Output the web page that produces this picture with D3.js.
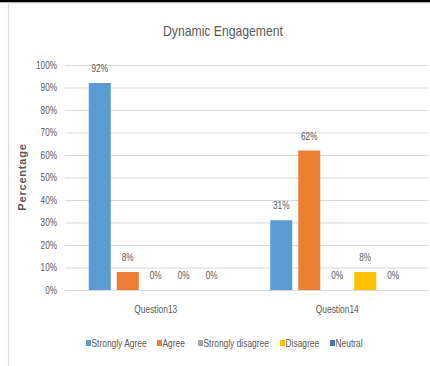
<!DOCTYPE html>
<html>
<head>
<meta charset="utf-8">
<script src="https://cdn.jsdelivr.net/npm/d3@7/dist/d3.min.js"></script>
<style>
  html, body { margin: 0; padding: 0; background: #fff; }
  svg { display: block; }
</style>
</head>
<body>
<svg id="chart" width="430" height="366"></svg>
<script>
const categories = ["Question13", "Question14"];
const seriesNames = ["Strongly Agree", "Agree", "Strongly disagree", "Disagree", "Neutral"];
const seriesColors = ["#5B9BD5", "#ED7D31", "#A5A5A5", "#FFC000", "#4472C4"];
const question13 = [0.92, 0.08, 0, 0, 0];
const question14 = [0.31, 0.62, 0, 0.08, 0];
const yTicks = [0, 0.1, 0.2, 0.3, 0.4, 0.5, 0.6, 0.7, 0.8, 0.9, 1.0];
const chartTitle = "Dynamic Engagement";
const yAxisTitle = "Percentage";

const values = [question13, question14];
const font = "'Liberation Sans', Arial, sans-serif";
const svg = d3.select("#chart");

// condense a text (Calibri-like narrow look)
function condense(sel, k) {
  sel.each(function () {
    const len = this.getComputedTextLength();
    d3.select(this).attr("textLength", len * k).attr("lengthAdjust", "spacingAndGlyphs");
  });
}

// frame decoration (screenshot edges)
svg.append("rect").attr("x", 0).attr("y", 0).attr("width", 430).attr("height", 2.3).attr("fill", "#000");
svg.append("line").attr("x1", 8.5).attr("x2", 8.5).attr("y1", 3).attr("y2", 366)
  .attr("stroke", "#d9d9d9").attr("stroke-width", 1.2);
svg.append("line").attr("x1", 8).attr("x2", 430).attr("y1", 3.5).attr("y2", 3.5)
  .attr("stroke", "#eeeeee").attr("stroke-width", 1);

const plot = { left: 65, right: 428, top: 65, bottom: 290 };

const y = d3.scaleLinear().domain([0, 1]).range([plot.bottom, plot.top]);
const x0 = d3.scaleBand().domain(categories).range([plot.left, plot.right]).padding(0);
const groupW = 134;
const x1 = d3.scaleBand().domain(seriesNames)
  .range([(x0.bandwidth() - groupW) / 2, (x0.bandwidth() + groupW) / 2])
  .paddingInner(6 / 28).paddingOuter(0);

// gridlines
const yAxis = d3.axisLeft(y).tickValues(yTicks).tickFormat(d3.format(".0%"))
  .tickSize(-(plot.right - plot.left)).tickPadding(8);
const gy = svg.append("g").attr("transform", `translate(${plot.left},0)`).call(yAxis);
gy.select(".domain").remove();
gy.selectAll(".tick line").attr("stroke", "#d9d9d9").attr("stroke-width", 1);
gy.selectAll(".tick text").attr("fill", "#595959").attr("font-family", font).attr("font-size", "10.5px")
  .call(condense, 0.78);

// bars
const groups = svg.append("g").selectAll("g").data(categories).join("g")
  .attr("transform", d => `translate(${x0(d)},0)`);

groups.selectAll("rect")
  .data((d, i) => seriesNames.map((s, j) => ({ s, v: values[i][j], c: seriesColors[j] })))
  .join("rect")
  .attr("x", d => x1(d.s))
  .attr("width", x1.bandwidth())
  .attr("y", d => y(d.v))
  .attr("height", d => y(0) - y(d.v))
  .attr("fill", d => d.c);

groups.selectAll("text.val")
  .data((d, i) => seriesNames.map((s, j) => ({ s, v: values[i][j] })))
  .join("text")
  .attr("class", "val")
  .attr("x", d => x1(d.s) + x1.bandwidth() / 2)
  .attr("y", d => y(d.v) - 11)
  .attr("text-anchor", "middle")
  .attr("fill", "#595959")
  .attr("font-family", font)
  .attr("font-size", "10.5px")
  .text(d => d3.format(".0%")(d.v))
  .call(condense, 0.78);

// x axis
svg.append("line").attr("x1", plot.left).attr("x2", plot.right)
  .attr("y1", y(0) + 0.5).attr("y2", y(0) + 0.5).attr("stroke", "#d9d9d9");
const xAxis = d3.axisBottom(x0).tickSize(0).tickPadding(16);
const gx = svg.append("g").attr("transform", `translate(0,${plot.bottom})`).call(xAxis);
gx.select(".domain").remove();
gx.selectAll(".tick text").attr("fill", "#595959").attr("font-family", font).attr("font-size", "10.5px")
  .call(condense, 0.8);

// title
svg.append("text").attr("x", 223).attr("y", 36).attr("text-anchor", "middle")
  .attr("fill", "#595959").attr("font-family", font)
  .attr("font-size", "14.5px").text(chartTitle)
  .call(condense, 0.84);

// y axis title
svg.append("text").attr("transform", "translate(26,177) rotate(-90)").attr("text-anchor", "middle")
  .attr("fill", "#595959").attr("font-family", font)
  .attr("font-size", "11px").attr("font-weight", "bold").attr("letter-spacing", "0.8px")
  .text(yAxisTitle);

// legend
const legendX = [86, 157, 198, 280, 330];
const lg = svg.append("g").selectAll("g").data(seriesNames).join("g")
  .attr("transform", (d, i) => `translate(${legendX[i]},343)`);
lg.append("rect").attr("x", 0).attr("y", -3).attr("width", 5).attr("height", 6)
  .attr("fill", (d, i) => seriesColors[i]);
lg.append("text").attr("x", 5.5).attr("y", 3.8).attr("fill", "#595959")
  .attr("font-family", font).attr("font-size", "10.5px").text(d => d)
  .call(condense, 0.8);
</script>
</body>
</html>
